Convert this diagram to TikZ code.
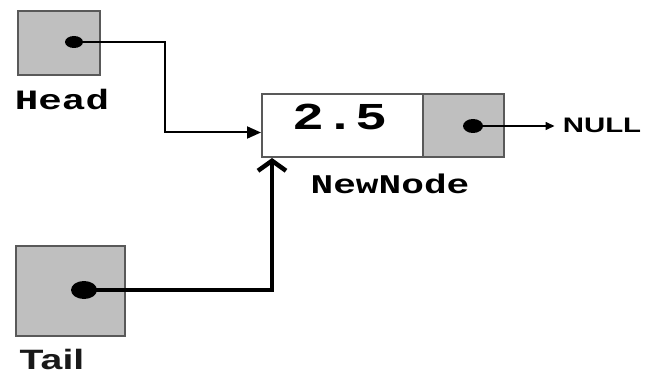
\documentclass[tikz,border=0pt]{standalone}
\usepackage{fontspec}
\setmainfont{Liberation Sans}
\newfontfamily\monobold{Liberation Mono}[BoldFont={* Bold}]
\usetikzlibrary{arrows.meta}
\tikzset{
  ptrbox/.style={draw=black!65, line width=2pt, fill=black!25, inner sep=0pt, anchor=north west},
  valbox/.style={draw=black!65, line width=2pt, fill=white, inner sep=0pt, anchor=north west},
  dotnode/.style={ellipse, fill=black, inner sep=0pt},
  lbl/.style={inner sep=0pt, anchor=base, xscale=1.4, transform shape},
  thinlink/.style={line width=2pt, -{Triangle[length=14pt,width=12pt]}},
  thicklink/.style={line width=4.5pt, -{Straight Barb[length=10pt,width=28pt,line width=4.5pt]}},
  nulllink/.style={line width=1.5pt, -{Triangle[length=9pt,width=8pt]}}
}
\usetikzlibrary{shapes.geometric}
\begin{document}
\begin{tikzpicture}[x=1pt,y=-1pt]
\useasboundingbox (0,0) rectangle (645,377);
% boxes
\node[ptrbox, minimum width=82pt, minimum height=64pt] (head) at (17,10) {};
\node[ptrbox, minimum width=109pt, minimum height=90pt] (tail) at (15,245) {};
\node[valbox, minimum width=161pt, minimum height=63pt] (nnval) at (261,93) {};
\node[ptrbox, minimum width=81pt, minimum height=63pt] (nnptr) at (422,93) {};
% dots
\node[dotnode, minimum width=18pt, minimum height=12pt] (hdot) at (74,42) {};
\node[dotnode, minimum width=26pt, minimum height=18pt] (tdot) at (84,290) {};
\node[dotnode, minimum width=20pt, minimum height=14pt] (ndot) at (473,126) {};
% labels
\node[lbl] (headlbl) at (62,110) {\monobold\bfseries\fontsize{28}{30}\selectfont Head};
\node[lbl] (vallbl) at (340,130) {\monobold\bfseries\fontsize{38}{40}\selectfont 2.5};
\node[lbl] (nnlbl) at (390,193) {\monobold\bfseries\fontsize{27}{29}\selectfont NewNode};
\node[lbl] (nulllbl) at (602,133) {\bfseries\fontsize{21}{23}\selectfont NULL};
\node[lbl, text=black!90] (taillbl) at (52,369) {\bfseries\fontsize{28}{30}\selectfont Tail};
% connectors
\coordinate (hbend) at (165,42);
\draw[thinlink] (hdot.center) -- (hbend) |- ([yshift=-7pt]nnval.west);
\draw[thicklink] (tdot.center) -| ([xshift=11pt]nnval.south west);
\draw[nulllink] (ndot.center) -- ([xshift=-8pt]nulllbl.west |- ndot.center);
\end{tikzpicture}
\end{document}
